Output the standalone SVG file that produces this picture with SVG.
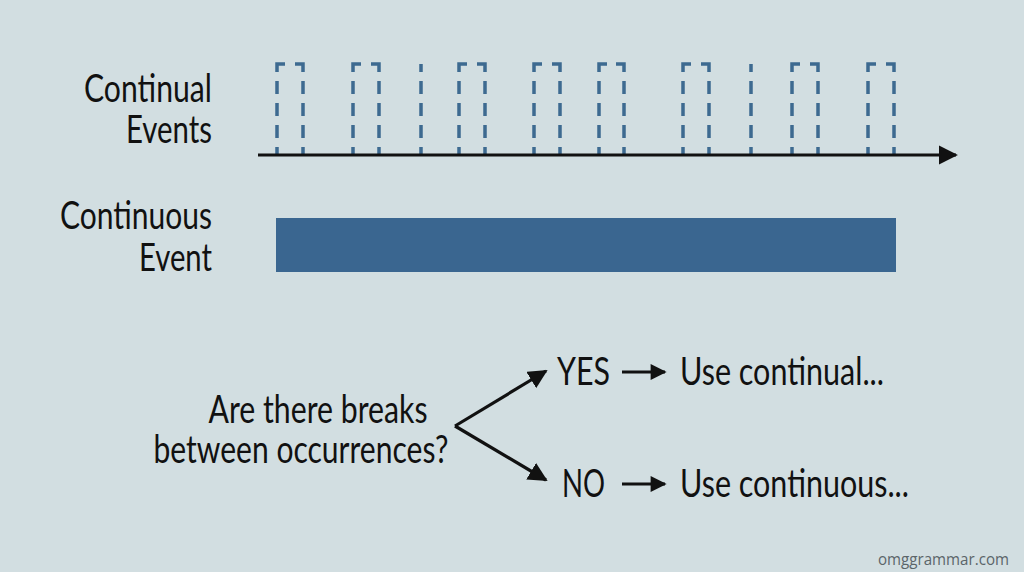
<svg xmlns="http://www.w3.org/2000/svg" width="1024" height="572" viewBox="0 0 1024 572">
<defs>
<style>
.lbl{font-family:Lato,"Open Sans","Liberation Sans",sans-serif;font-size:39px;fill:#111;}
.pulse{fill:none;stroke:#3d6a90;stroke-width:3.5;stroke-dasharray:8 9 13 9 13 9 13 9 16 60;}
.single{fill:none;stroke:#3d6a90;stroke-width:3.5;stroke-dasharray:8 9 13 9 13 9 13 9 8 60;}
.arr{fill:none;stroke:#111;stroke-width:3.2;}
.wm{font-family:"Open Sans","Liberation Sans",sans-serif;font-size:16px;fill:#5b6569;}
</style>
<marker id="ah" viewBox="0 0 10 10" refX="9" refY="5" markerWidth="6" markerHeight="6" markerUnits="strokeWidth" orient="auto">
<path d="M0,0 L10,5 L0,10 Z" fill="#111"/>
</marker>
<marker id="ahs" viewBox="0 0 10 10" refX="9" refY="5" markerWidth="5.5" markerHeight="5" markerUnits="strokeWidth" orient="auto">
<path d="M0,0 L10,5 L0,10 Z" fill="#111"/>
</marker>
</defs>
<rect width="1024" height="572" fill="#d2dee1"/>

<g id="label-continual">
<text class="lbl" text-anchor="end"><tspan x="212" y="102" textLength="128" lengthAdjust="spacingAndGlyphs">Continual</tspan><tspan x="212" y="143" textLength="86" lengthAdjust="spacingAndGlyphs">Events</tspan></text>
</g>
<g id="label-continuous">
<text class="lbl" text-anchor="end"><tspan x="212" y="229" textLength="152" lengthAdjust="spacingAndGlyphs">Continuous</tspan><tspan x="212" y="271" textLength="73" lengthAdjust="spacingAndGlyphs">Event</tspan></text>
</g>

<g id="pulses">
<path class="pulse" d="M277,155 V64 H285 M303,155 V64 H295"/>
<path class="pulse" d="M353,155 V64 H361 M379,155 V64 H371"/>
<path class="single" d="M421,155 V64"/>
<path class="pulse" d="M459,155 V64 H467 M485,155 V64 H477"/>
<path class="pulse" d="M534,155 V64 H542 M560,155 V64 H552"/>
<path class="pulse" d="M599,155 V64 H607 M624,155 V64 H616"/>
<path class="pulse" d="M683,155 V64 H691 M709,155 V64 H701"/>
<path class="single" d="M751,155 V64"/>
<path class="pulse" d="M792,155 V64 H800 M818,155 V64 H810"/>
<path class="pulse" d="M868,155 V64 H876 M894,155 V64 H886"/>
</g>

<g id="timeline">
<line x1="258" y1="155" x2="956" y2="155" stroke="#111" stroke-width="3.2" marker-end="url(#ah)"/>
</g>

<g id="continuous-bar">
<rect x="276" y="218" width="620" height="54" fill="#3a6690"/>
</g>

<g id="question">
<text class="lbl" text-anchor="middle"><tspan x="318" y="423" textLength="219" lengthAdjust="spacingAndGlyphs">Are there breaks</tspan><tspan x="301" y="463" textLength="295" lengthAdjust="spacingAndGlyphs">between occurrences?</tspan></text>
</g>

<g id="yes">
<text class="lbl" x="557" y="385" textLength="53" lengthAdjust="spacingAndGlyphs">YES</text>
</g>
<g id="yes-result">
<text class="lbl" x="680" y="385" textLength="204" lengthAdjust="spacingAndGlyphs">Use continual...</text>
</g>
<g id="no">
<text class="lbl" x="562" y="497" textLength="43" lengthAdjust="spacingAndGlyphs">NO</text>
</g>
<g id="no-result">
<text class="lbl" x="680" y="497" textLength="229" lengthAdjust="spacingAndGlyphs">Use continuous...</text>
</g>

<g id="connectors">
<path class="arr" d="M455,426 L546,371" marker-end="url(#ah)"/>
<path class="arr" d="M455,426 L546,480" marker-end="url(#ah)"/>
<path class="arr" d="M622,372 L665,372" marker-end="url(#ahs)"/>
<path class="arr" d="M622,484 L665,484" marker-end="url(#ahs)"/>
</g>

<text class="wm" x="1009" y="565" text-anchor="end" textLength="131" lengthAdjust="spacingAndGlyphs">omggrammar.com</text>
</svg>
